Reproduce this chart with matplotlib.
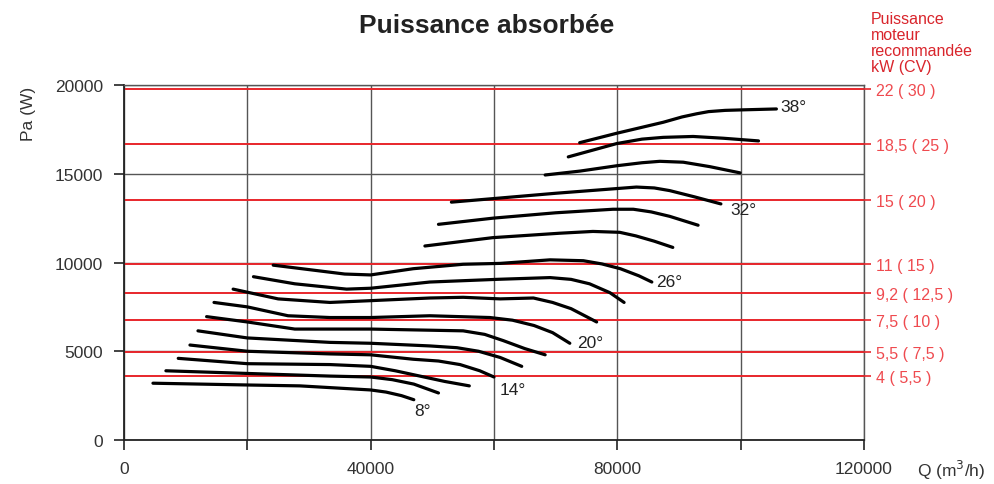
import matplotlib
matplotlib.use("Agg")
import matplotlib.pyplot as plt

plt.rcParams['font.family'] = ['Liberation Sans', 'DejaVu Sans']

# Absorbed power curves Pa (W) vs air flow Q (m3/h), one per blade angle step
q1 = [4700, 20000, 28500, 36000, 40000, 42500, 45000, 47000]
p1 = [3200, 3100, 3050, 2900, 2820, 2700, 2500, 2270]
q2 = [6800, 20000, 33500, 40000, 43500, 47000, 51000]
p2 = [3900, 3750, 3600, 3550, 3400, 3150, 2650]
q3 = [8800, 20000, 33400, 40000, 44000, 48000, 52000, 56000]
p3 = [4600, 4300, 4250, 4150, 3900, 3600, 3300, 3050]
q4 = [10700, 20000, 33400, 40000, 46900, 51000, 54500, 57700, 60000]
p4 = [5350, 5000, 4850, 4800, 4550, 4450, 4250, 3900, 3550]
q5 = [12000, 20000, 33400, 40000, 49600, 54000, 57500, 61000, 64500]
p5 = [6150, 5750, 5500, 5450, 5300, 5200, 5000, 4650, 4150]
q6 = [13400, 20000, 27700, 33400, 40000, 55000, 58500, 61500, 65000, 68300]
p6 = [6950, 6650, 6250, 6250, 6250, 6150, 5950, 5600, 5150, 4800]
q7 = [14600, 20000, 26600, 33400, 40000, 49600, 59350, 63000, 66500, 69500, 72300]
p7 = [7750, 7500, 7000, 6900, 6900, 7000, 6900, 6750, 6450, 6050, 5450]
q8 = [17700, 25000, 33400, 40000, 49600, 55000, 61000, 66400, 69500, 72500, 75000, 76650]
p8 = [8500, 7950, 7750, 7850, 8000, 8040, 7950, 8000, 7750, 7400, 6950, 6650]
q9 = [21000, 27700, 36100, 40000, 49600, 60400, 69100, 72500, 75500, 78800, 81100]
p9 = [9200, 8800, 8500, 8550, 8900, 9050, 9150, 9050, 8800, 8300, 7750]
q10 = [24200, 35800, 40000, 46900, 55000, 61000, 69100, 74500, 77500, 80500, 83500, 85600]
p10 = [9850, 9350, 9300, 9650, 9900, 9950, 10150, 10100, 9920, 9650, 9250, 8900]
q11 = [48800, 59800, 70700, 76050, 80400, 83000, 86000, 89000]
p11 = [10930, 11400, 11650, 11750, 11700, 11500, 11200, 10850]
q12 = [51000, 59900, 70000, 79300, 82600, 85500, 88500, 93100]
p12 = [12150, 12500, 12800, 13000, 13000, 12850, 12600, 12100]
q13 = [53100, 59900, 70000, 79350, 83100, 86000, 88500, 92500, 96800]
p13 = [13400, 13600, 13900, 14150, 14250, 14200, 14050, 13700, 13300]
q14 = [68300, 73950, 79900, 84000, 86900, 90700, 95000, 99900]
p14 = [14930, 15150, 15450, 15620, 15700, 15650, 15400, 15050]
q15 = [72050, 79900, 84000, 87450, 92300, 97200, 102900]
p15 = [15950, 16700, 16950, 17050, 17100, 17000, 16850]
q16 = [73900, 79900, 87450, 90500, 92900, 94800, 97500, 100400, 105800]
p16 = [16750, 17280, 17900, 18200, 18380, 18500, 18570, 18600, 18650]

curves = [(q1, p1), (q2, p2), (q3, p3), (q4, p4), (q5, p5), (q6, p6),
          (q7, p7), (q8, p8), (q9, p9), (q10, p10), (q11, p11), (q12, p12),
          (q13, p13), (q14, p14), (q15, p15), (q16, p16)]

# Blade angle labels, attached to the end of a curve
angle_labels = ["8°", "14°", "20°", "26°", "32°", "38°"]
angle_curve_index = [0, 3, 6, 9, 12, 15]
angle_offsets = [(9, -11), (19, -13), (20, 1), (17, 1), (23, -6), (17, 2)]

# Recommended motor power: kW (CV); drawn at 90 % of nominal power
motor_kw = [4, 5.5, 7.5, 9.2, 11, 15, 18.5, 22]
motor_cv = ["5,5", "7,5", "10", "12,5", "15", "20", "25", "30"]
motor_eff = 0.9

x_ticks = [0, 20000, 40000, 60000, 80000, 100000, 120000]
x_ticklabels = ["0", "", "40000", "", "80000", "", "120000"]
y_ticks = [0, 5000, 10000, 15000, 20000]

RED = "#e8262b"
RED_TXT = "#ef4a4f"
GRID = "#555555"
TXT = "#333333"

fig = plt.figure(figsize=(9.95, 4.85), dpi=100)
ax = fig.add_axes([0.1246, 0.0907, 0.7437, 0.732])
ax.set_xlim(0, 120000)
ax.set_ylim(0, 20000)

ax.set_xticks(x_ticks)
ax.set_xticklabels(x_ticklabels)
ax.set_yticks(y_ticks)
ax.tick_params(axis='both', direction='out', length=7, width=1.2, color="#222222",
               labelsize=12.5, labelcolor=TXT, pad=8)
ax.grid(True, color=GRID, linewidth=1.0)
for side in ["left", "bottom"]:
    ax.spines[side].set_color("#222222")
    ax.spines[side].set_linewidth(1.3)
for side in ["top", "right"]:
    ax.spines[side].set_color(GRID)
    ax.spines[side].set_linewidth(1.0)

motor_w = [k * 1000 * motor_eff for k in motor_kw]
for w in motor_w:
    ax.axhline(w, color=RED, linewidth=1.4, zorder=2)

for q, p in curves:
    ax.plot(q, p, color="black", linewidth=2.3, solid_capstyle="round",
            solid_joinstyle="round", zorder=3)

for lab, idx, off in zip(angle_labels, angle_curve_index, angle_offsets):
    q, p = curves[idx]
    ax.annotate(lab, xy=(q[-1], p[-1]), xytext=off, textcoords="offset pixels",
                ha="center", va="center", fontsize=12.5, color="#222222")

# Right-hand scale with motor power labels
ax2 = ax.twinx()
ax2.set_ylim(ax.get_ylim())
ax2.set_yticks(motor_w)
ax2.set_yticklabels([f"{str(k).replace('.', ',')} ( {cv} )" for k, cv in zip(motor_kw, motor_cv)])
ax2.tick_params(axis='y', direction='out', length=5, width=1.2, color=RED,
                labelsize=11.5, labelcolor=RED_TXT, pad=4)
for s in ax2.spines.values():
    s.set_visible(False)

fig.text(0.875, 0.975, "Puissance\nmoteur\nrecommandée\nkW (CV)", ha="left", va="top",
         fontsize=11.5, color="#d9252c", linespacing=1.08)

fig.text(0.4895, 0.946, "Puissance absorbée", ha="center", va="center",
         fontsize=19, fontweight="bold", color="#222222")

fig.text(0.029, 0.82, "Pa (W)", rotation=90, ha="center", va="top",
         fontsize=12.5, color=TXT)
fig.text(0.922, 0.031, "Q (m$^3$/h)", ha="left", va="center",
         fontsize=12.5, color=TXT)

fig.savefig("out.png", dpi=100)
